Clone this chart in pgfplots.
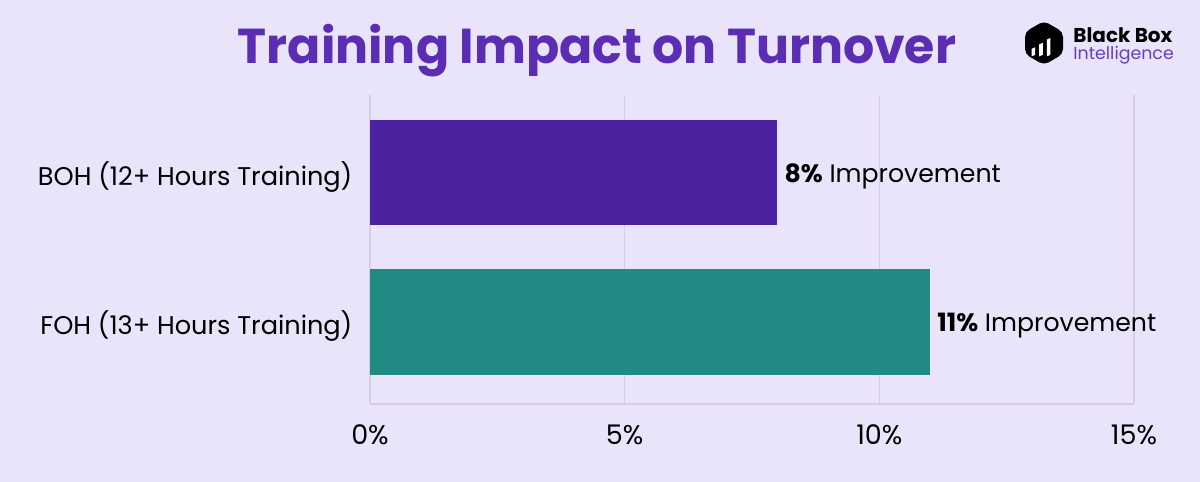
\documentclass[border=0pt]{standalone}
\usepackage{pgfplots}
\pgfplotsset{compat=1.18}
\usepackage{fontspec}
\setmainfont{Poppins}
\definecolor{bg}{HTML}{E9E4F9}
\definecolor{boh}{HTML}{4B22A0}
\definecolor{foh}{HTML}{218A82}
\definecolor{titlec}{HTML}{5A2DB2}
\definecolor{gridc}{HTML}{D6CEE6}
\definecolor{intel}{HTML}{6A3DC0}
\begin{document}
\begin{tikzpicture}[x=1pt,y=1pt]
\fill[bg] (0,0) rectangle (600,241);
\useasboundingbox (0,0) rectangle (600,241);
\node[font=\fontsize{24.5}{28}\selectfont\bfseries, text=titlec] at (298.5,215.5) {Training Impact on Turnover};
% logo
\fill[black, rounded corners=2.5pt] (522,230.5) -- (531.5,225) -- (531.5,214) -- (522,208.5) -- (512.5,214) -- (512.5,225) -- cycle;
\fill[white] (515.8,212.8) -- (517.6,213.6) -- (517.6,217.4) -- (515.8,216.6) -- cycle;
\fill[white] (519.6,212.8) -- (521.4,213.6) -- (521.4,219.6) -- (519.6,218.8) -- cycle;
\fill[white] (523.4,212.8) -- (525.2,213.6) -- (525.2,222) -- (523.4,221.2) -- cycle;
\node[anchor=west, font=\fontsize{10}{11}\selectfont\bfseries, inner sep=0] at (536.5,223.5) {Black Box};
\node[anchor=west, font=\fontsize{8.7}{10}\selectfont, text=intel, inner sep=0] at (536.5,213.5) {Intelligence};
\begin{axis}[
  at={(185pt,39pt)}, anchor=south west,
  scale only axis, width=382pt, height=154.5pt,
  xbar, bar width=0.705, bar shift=0pt,
  xmin=0, xmax=15, ymin=-0.55, ymax=1.52,
  xtick={0,5,10,15}, xticklabels={0\%,5\%,10\%,15\%},
  ytick={0,1}, yticklabels={FOH (13+ Hours Training),BOH (12+ Hours Training)},
  xmajorgrids, major grid style={gridc, line width=0.6pt},
  axis x line*=bottom, axis y line*=left,
  x axis line style={-, gridc, line width=0.9pt},
  y axis line style={draw=none},
  tick style={draw=none},
  xticklabel style={font=\fontsize{13.5}{15}\selectfont, yshift=-7pt},
  yticklabel style={font=\fontsize{12.8}{15}\selectfont, xshift=-1pt, yshift=-2pt},
  clip=false,
]
\addplot[fill=boh, draw=none] coordinates {(8,1)};
\addplot[fill=foh, draw=none] coordinates {(11,0)};
\node[anchor=west, font=\fontsize{12.6}{14}\selectfont, yshift=-2pt] at (axis cs:8,1) {\textbf{8\%} Improvement};
\node[anchor=west, font=\fontsize{12.6}{14}\selectfont, yshift=-2pt] at (axis cs:11,0) {\textbf{11\%} Improvement};
\end{axis}
\end{tikzpicture}
\end{document}
